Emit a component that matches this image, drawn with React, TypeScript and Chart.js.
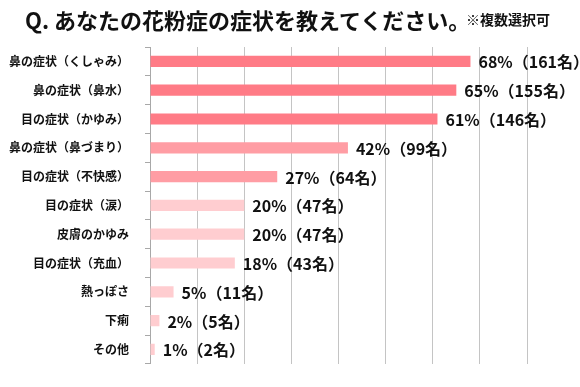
import React, { useEffect, useRef } from "react";
import { Chart, registerables } from "chart.js";

Chart.register(...registerables);

const categories = [
  "鼻の症状（くしゃみ）",
  "鼻の症状（鼻水）",
  "目の症状（かゆみ）",
  "鼻の症状（鼻づまり）",
  "目の症状（不快感）",
  "目の症状（涙）",
  "皮膚のかゆみ",
  "目の症状（充血）",
  "熱っぽさ",
  "下痢",
  "その他",
];
const percents = [68, 65, 61, 42, 27, 20, 20, 18, 5, 2, 1];
const counts = [161, 155, 146, 99, 64, 47, 47, 43, 11, 5, 2];
const barColors = [
  "#FF7B86",
  "#FF7B86",
  "#FF7B86",
  "#FF9DA4",
  "#FF9DA4",
  "#FFCDD0",
  "#FFCDD0",
  "#FFCDD0",
  "#FFCDD0",
  "#FFCDD0",
  "#FFCDD0",
];
const xTicks = [0, 10, 20, 30, 40, 50, 60, 70, 80];

const FONT = '"Noto Sans CJK JP", "Noto Sans", sans-serif';

const valueLabelPlugin = {
  id: "valueLabels",
  afterDatasetsDraw(chart: any) {
    const ctx = chart.ctx;
    const meta = chart.getDatasetMeta(0);
    ctx.save();
    ctx.font = `bold 16px ${FONT}`;
    ctx.fillStyle = "#111";
    ctx.textBaseline = "middle";
    ctx.textAlign = "left";
    meta.data.forEach((bar: any, i: number) => {
      const text = `${percents[i]}%（${counts[i]}名）`;
      ctx.fillText(text, bar.x + 8, bar.y + 1);
    });
    ctx.restore();
  },
};

export default function App() {
  const ref = useRef<HTMLCanvasElement | null>(null);

  useEffect(() => {
    document.body.style.margin = "0";
    const canvas = ref.current;
    if (!canvas) return;
    const chart = new Chart(canvas, {
      type: "bar",
      data: {
        labels: categories,
        datasets: [
          {
            data: percents,
            backgroundColor: barColors,
            borderWidth: 0,
            categoryPercentage: 1,
            barPercentage: 0.39,
          },
        ],
      },
      options: {
        indexAxis: "y",
        animation: false,
        responsive: false,
        maintainAspectRatio: false,
        layout: { padding: { top: 47, right: 53, bottom: 7, left: 0 } },
        plugins: {
          legend: { display: false },
          tooltip: { enabled: false },
          title: { display: false },
        },
        scales: {
          x: {
            min: 0,
            max: 80,
            afterBuildTicks: (scale: any) => {
              scale.ticks = xTicks.map((v) => ({ value: v }));
            },
            ticks: { display: false },
            grid: { color: "#C4C4C4", lineWidth: 1, drawTicks: false },
            border: { display: false },
          },
          y: {
            afterFit: (scale: any) => {
              scale.width = 150;
            },
            ticks: {
              color: "#111",
              font: { family: FONT, size: 12, weight: "bold" },
              padding: 16,
              autoSkip: false,
            },
            grid: {
              offset: true,
              drawOnChartArea: false,
              drawTicks: true,
              tickLength: 5,
              color: "#A8A8A8",
            },
            border: { display: true, color: "#A8A8A8", width: 1 },
          },
        },
      },
      plugins: [valueLabelPlugin],
    });
    return () => chart.destroy();
  }, []);

  return (
    <div style={{ position: "relative", width: 580, height: 387, background: "#fff" }}>
      <div
        style={{
          position: "absolute",
          left: 25,
          top: 3,
          fontFamily: FONT,
          fontWeight: 700,
          fontSize: 22,
          color: "#111",
          whiteSpace: "nowrap",
          lineHeight: "32px",
        }}
      >
        Q. あなたの花粉症の症状を教えてください。
      </div>
      <div
        style={{
          position: "absolute",
          left: 466,
          top: 9,
          fontFamily: FONT,
          fontWeight: 700,
          fontSize: 14,
          color: "#111",
          whiteSpace: "nowrap",
          lineHeight: "20px",
        }}
      >
        ※複数選択可
      </div>
      <canvas ref={ref} width={580} height={387} style={{ display: "block" }} />
    </div>
  );
}
